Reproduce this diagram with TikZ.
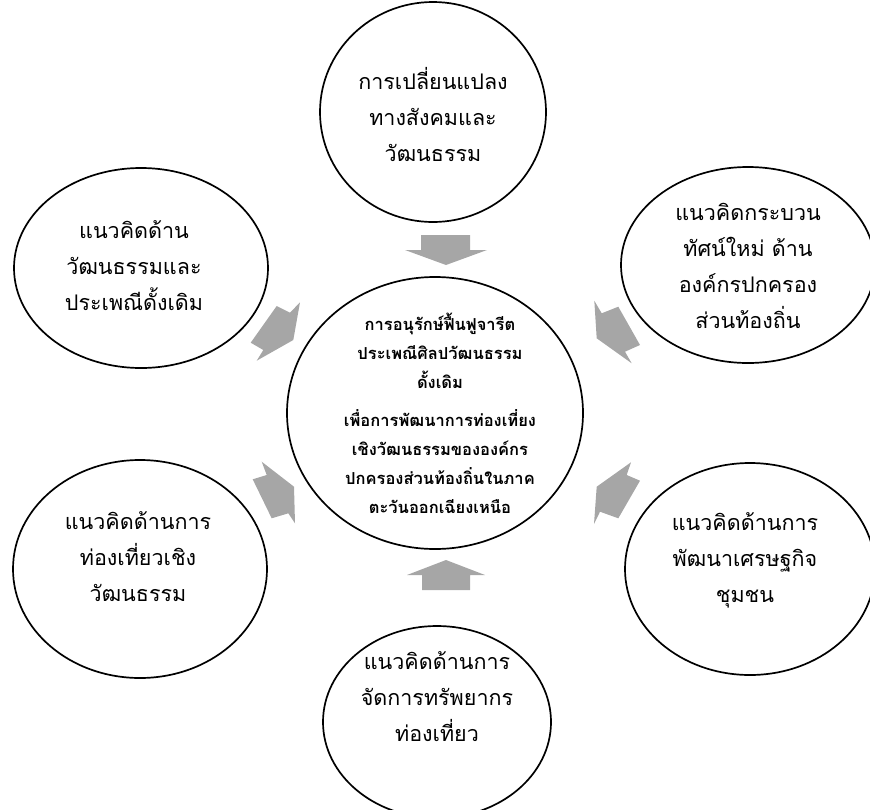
\documentclass[tikz,border=0pt]{standalone}
\usepackage{fontspec}
\setmainfont[Script=Thai]{Loma}
\usetikzlibrary{shapes.geometric}
\definecolor{arrgray}{RGB}{166,166,166}
\begin{document}
\begin{tikzpicture}[x=1pt,y=-1pt,
  ell/.style={draw, ellipse, line width=1.7pt, inner sep=0pt},
  otext/.style={align=center, font=\fontsize{21.5}{36}\selectfont, inner sep=0pt},
  ctext/.style={align=center, font=\bfseries\fontsize{16.5}{29}\selectfont, inner sep=0pt},
  blk/.style={fill=arrgray, draw=none}]
\useasboundingbox (0,0) rectangle (870,809);
% ellipses
\node[ell, minimum width=226pt, minimum height=220pt] (top) at (433,112) {};
\node[ell, minimum width=254pt, minimum height=200pt] (ul) at (141,268) {};
\node[ell, minimum width=254pt, minimum height=196pt] (ur) at (748,265) {};
\node[ell, minimum width=296pt, minimum height=272pt] (cen) at (435,413) {};
\node[ell, minimum width=254pt, minimum height=218pt] (ll) at (140,569) {};
\node[ell, minimum width=250pt, minimum height=212pt] (lr) at (750,569) {};
\node[ell, minimum width=228pt, minimum height=192pt] (bot) at (437,722) {};
% texts
\node[otext] (toptx) at (433,114) {การเปลี่ยนแปลง\\ทางสังคมและ\\วัฒนธรรม};
\node[otext] (ultx) at (134,266) {แนวคิดด้าน\\วัฒนธรรมและ\\ประเพณีดั้งเดิม};
\node[otext] (urtx) at (748,266) {แนวคิดกระบวน\\ทัศน์ใหม่ ด้าน\\องค์กรปกครอง\\ส่วนท้องถิ่น};
\node[otext] (lltx) at (138,557) {แนวคิดด้านการ\\ท่องเที่ยวเชิง\\วัฒนธรรม};
\node[otext] (lrtx) at (745,560) {แนวคิดด้านการ\\พัฒนาเศรษฐกิจ\\ชุมชน};
\node[otext] (bottx) at (437,697) {แนวคิดด้านการ\\จัดการทรัพยากร\\ท่องเที่ยว};
\node[ctext] (centx) at (440,413) {การอนุรักษ์ฟื้นฟูจารีต\\ประเพณีศิลปวัฒนธรรม\\ดั้งเดิม\\[9pt]เพื่อการพัฒนาการท่องเที่ยง\\เชิงวัฒนธรรมขององค์กร\\ปกครองส่วนท้องถิ่นในภาค\\ตะวันออกเฉียงเหนือ};
% block arrows
\fill[blk] (421,235) -- (470,235) -- (470,250) -- (487,250) -- (446,265) -- (405,250) -- (421,250) -- cycle;
\fill[blk] (422,590) -- (470,590) -- (470,575) -- (485,575) -- (446,560) -- (407,575) -- (422,575) -- cycle;
\fill[blk] (276.7,306) -- (290,312.7) -- (300,302.3) -- (293.3,340) -- (256.7,360.7) -- (263.3,350) -- (250.7,342.7) -- cycle;
\fill[blk] (618.3,306.7) -- (601.7,313.3) -- (594.3,300.7) -- (596.7,338.3) -- (631.7,363.3) -- (625,351.7) -- (640,345) -- cycle;
\fill[blk] (252.7,479.3) -- (266.7,475) -- (261.7,461.7) -- (294,486.7) -- (295,523.3) -- (288.3,513.3) -- (271.7,518.3) -- cycle;
\fill[blk] (640,480.7) -- (626.7,475) -- (631,462.3) -- (596.7,486.7) -- (594,524) -- (600,511.7) -- (618.3,518.3) -- cycle;
\end{tikzpicture}
\end{document}
